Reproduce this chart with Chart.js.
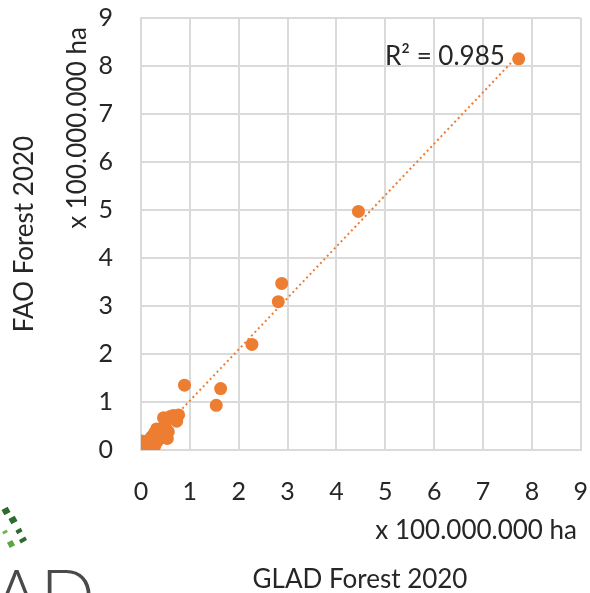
<!DOCTYPE html>
<html>
<head>
<meta charset="utf-8">
<script src="https://cdn.jsdelivr.net/npm/chart.js@4.4.1/dist/chart.umd.min.js"></script>
<style>
  html, body { margin: 0; padding: 0; background: #fff; }
  canvas { display: block; }
</style>
</head>
<body>
<canvas id="forestChart" width="590" height="593"></canvas>
<script>
// forest area per country, unit = 100.000.000 ha
const gladForest = [7.73, 4.45, 2.88, 2.81, 2.27, 0.89, 1.63, 1.54,
    0.77, 0.73, 0.66, 0.60, 0.46, 0.56, 0.50, 0.42, 0.32, 0.36, 0.28, 0.34,
    0.22, 0.18, 0.26, 0.12, 0.08, 0.04, 0.01, 0.02, 0.05, 0.10, 0.15, 0.20,
    0.28, 0.00, 0.03, 0.40, 0.14, 0.24, 0.54, 0.30, 0.45];
const faoForest = [8.15, 4.97, 3.47, 3.09, 2.20, 1.35, 1.28, 0.93,
    0.73, 0.60, 0.72, 0.70, 0.67, 0.38, 0.48, 0.45, 0.44, 0.30, 0.36, 0.19,
    0.28, 0.22, 0.12, 0.18, 0.12, 0.16, 0.19, 0.08, 0.04, 0.06, 0.05, 0.08,
    0.08, 0.02, 0.01, 0.25, 0.12, 0.20, 0.24, 0.30, 0.35];
const axisTicks = [0, 1, 2, 3, 4, 5, 6, 7, 8, 9];

const xTitle = "GLAD Forest 2020";
const yTitle = "FAO Forest 2020";
const unitLabel = "x 100.000.000 ha";
const rSquaredLabel = "R\u00b2 = 0.985";

const orange = "#ED7D31";
const textColor = "#262626";
const gridColor = "#dadada";
const fontName = "Lato, 'Open Sans', sans-serif";

function linearFit(xs, ys) {
    let n = xs.length;
    let mx = xs.reduce((a, b) => a + b, 0) / n;
    let my = ys.reduce((a, b) => a + b, 0) / n;
    let sxy = 0, sxx = 0;
    for (let i = 0; i < n; i++) {
        sxy += (xs[i] - mx) * (ys[i] - my);
        sxx += (xs[i] - mx) * (xs[i] - mx);
    }
    let slope = sxy / sxx;
    return { slope: slope, intercept: my - slope * mx };
}

const points = gladForest.map((v, i) => ({ x: v, y: faoForest[i] }));
const fit = linearFit(gladForest, faoForest);
const xLo = Math.min(...gladForest);
const xHi = Math.max(...gladForest);
const trendPoints = [
    { x: xLo, y: fit.intercept + fit.slope * xLo },
    { x: xHi, y: fit.intercept + fit.slope * xHi }
];

// axis titles, unit labels, R² and the bits of the logo
const labelsPlugin = {
    id: "labels",
    afterDraw(chart) {
        const ctx = chart.ctx;
        const area = chart.chartArea;
        ctx.save();
        ctx.fillStyle = textColor;
        ctx.font = "26px " + fontName;
        ctx.textBaseline = "middle";

        // y titles (rotated)
        ctx.save();
        ctx.translate(25, (area.top + area.bottom) / 2);
        ctx.rotate(-Math.PI / 2);
        ctx.textAlign = "center";
        ctx.fillText(yTitle, 0, 0);
        ctx.restore();

        ctx.save();
        ctx.translate(78, 128);
        ctx.rotate(-Math.PI / 2);
        ctx.textAlign = "center";
        ctx.fillText(unitLabel, 0, 0);
        ctx.restore();

        // x unit + title
        ctx.textAlign = "right";
        ctx.fillText(unitLabel, 577, 531);
        ctx.textAlign = "center";
        ctx.fillText(xTitle, 360, 580);

        // R squared
        ctx.textAlign = "left";
        ctx.fillText(rSquaredLabel, 385, 57);

        // logo remains bottom left
        const squares = [
            [6, 511, 7, 6, "#2f6b2f"], [13, 520, 7, 6, "#2f6b2f"],
            [5, 532, 5, 3, "#6cb84f"], [19, 531, 6, 4, "#2f6b2f"],
            [11, 544, 6, 6, "#5aa845"], [23, 540, 7, 4, "#2f6b2f"]
        ];
        squares.forEach(s => {
            ctx.save();
            ctx.translate(s[0], s[1]);
            ctx.rotate(-0.5);
            ctx.fillStyle = s[4];
            ctx.fillRect(-s[2] / 2, -s[3] / 2, s[2], s[3]);
            ctx.restore();
        });
        ctx.fillStyle = "#4a4a4a";
        ctx.font = "300 72px " + fontName;
        ctx.textAlign = "right";
        ctx.textBaseline = "alphabetic";
        ctx.fillText("LAD", 95, 622);
        ctx.restore();
    }
};

function tickConfig() {
    return {
        padding: 2,
        color: textColor,
        font: { family: fontName, size: 25 },
        autoSkip: false
    };
}

function gridConfig(len) {
    return { color: gridColor, lineWidth: 2, drawTicks: true, tickLength: len, tickColor: "rgba(0,0,0,0)" };
}

var ctx = document.getElementById("forestChart");
let forestChart = new Chart(ctx, {
    type: "scatter",
    data: {
        datasets: [{
            type: "line",
            data: trendPoints,
            borderColor: orange,
            borderWidth: 2,
            borderDash: [2, 3],
            pointRadius: 0,
            fill: false,
            order: 0
        }, {
            data: points,
            backgroundColor: orange,
            borderColor: orange,
            borderWidth: 0,
            pointRadius: 6.5,
            order: 1
        }]
    },
    options: {
        responsive: false,
        animation: false,
        events: [],
        layout: { padding: { top: 18, right: 8, left: 0, bottom: 0 } },
        plugins: {
            legend: { display: false },
            tooltip: { enabled: false }
        },
        scales: {
            x: {
                type: "linear",
                min: 0,
                max: 9,
                afterBuildTicks: s => { s.ticks = axisTicks.map(v => ({ value: v })); },
                afterFit: s => { s.height = 143; },
                grid: gridConfig(25),
                border: { color: gridColor, width: 2 },
                ticks: tickConfig()
            },
            y: {
                type: "linear",
                min: 0,
                max: 9,
                afterBuildTicks: s => { s.ticks = axisTicks.map(v => ({ value: v })); },
                afterFit: s => { s.width = 141; },
                grid: gridConfig(26),
                border: { color: gridColor, width: 2 },
                ticks: tickConfig()
            }
        }
    },
    plugins: [labelsPlugin]
});
</script>
</body>
</html>
